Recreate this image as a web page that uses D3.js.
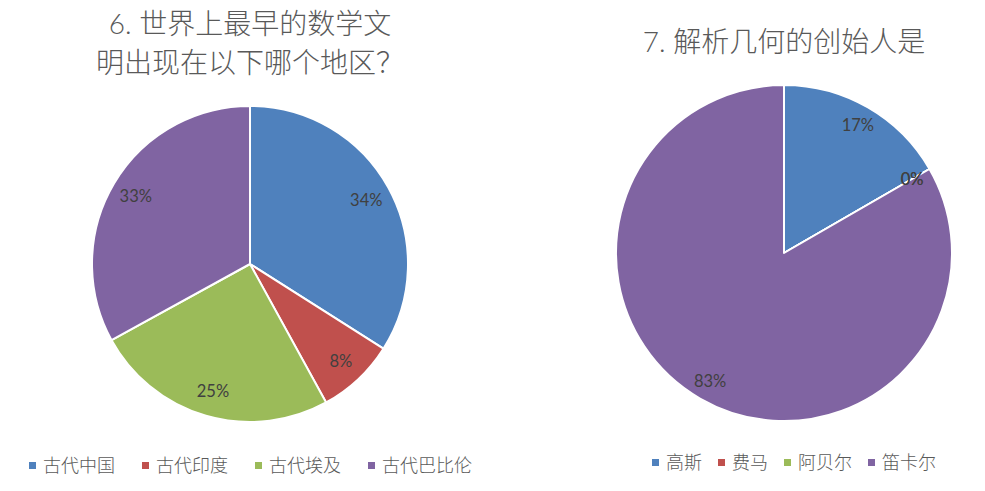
<!DOCTYPE html>
<html>
<head>
<meta charset="utf-8">
<script src="https://cdn.jsdelivr.net/npm/d3@7"></script>
<style>
  body { margin: 0; background: #fff; }
  svg text { font-family: Lato, "Noto Sans CJK SC", sans-serif; }
</style>
</head>
<body>
<svg id="chart"></svg>
<script>
  const regions = ['古代中国', '古代印度', '古代埃及', '古代巴比伦'];
  const regionShares = [34, 8, 25, 33];

  const founders = ['高斯', '费马', '阿贝尔', '笛卡尔'];
  const founderShares = [1, 0, 0, 5];

  const colors = ['#4F81BD', '#C0504D', '#9BBB59', '#8064A2'];

  const svgWidth = 985;
  const svgHeight = 491;

  const svg = d3.select('#chart')
    .attr('width', svgWidth)
    .attr('height', svgHeight);

  function drawPie(opts) {
    const total = d3.sum(opts.values);
    const pie = d3.pie().sort(null).value(d => d);
    const arc = d3.arc().innerRadius(0).outerRadius(opts.r);
    const labelArc = d3.arc().innerRadius(opts.r * opts.labelRatio).outerRadius(opts.r * opts.labelRatio);

    const g = svg.append('g').attr('transform', `translate(${opts.cx},${opts.cy})`);
    const arcs = pie(opts.values);

    g.selectAll('path')
      .data(arcs)
      .enter()
      .append('path')
      .attr('d', arc)
      .attr('fill', (d, i) => colors[i])
      .attr('stroke', '#fff')
      .attr('stroke-width', 2)
      .attr('stroke-linejoin', 'round');

    g.selectAll('text.lbl')
      .data(arcs)
      .enter()
      .append('text')
      .attr('class', 'lbl')
      .attr('transform', d => `translate(${labelArc.centroid(d)})`)
      .attr('text-anchor', 'middle')
      .attr('dy', '0.35em')
      .attr('font-size', 16.5)
      .attr('fill', '#404040')
      .text(d => Math.round(d.data / total * 100) + '%');

    // title
    const title = svg.append('text')
      .attr('x', opts.cx)
      .attr('text-anchor', 'middle')
      .attr('font-size', 28)
      .attr('font-weight', 300)
      .attr('fill', '#595959');
    opts.title.forEach((line, i) => {
      title.append('tspan')
        .attr('x', opts.cx)
        .attr('y', opts.titleY + i * 39)
        .text(line);
    });

    // legend
    const lg = svg.append('g').attr('transform', `translate(${opts.legendX},${opts.legendY})`);
    let x = 0;
    opts.names.forEach((name, i) => {
      lg.append('rect')
        .attr('x', x)
        .attr('y', -4)
        .attr('width', 7)
        .attr('height', 7)
        .attr('fill', colors[i]);
      const t = lg.append('text')
        .attr('x', x + 14)
        .attr('y', 0)
        .attr('dy', '0.35em')
        .attr('font-size', 18)
        .attr('font-weight', 300)
        .attr('fill', '#595959')
        .text(name);
      x += 14 + t.node().getComputedTextLength() + opts.legendGap;
    });
  }

  drawPie({
    values: regionShares, names: regions,
    cx: 250, cy: 264, r: 158, labelRatio: 0.84,
    title: ['6. 世界上最早的数学文', '明出现在以下哪个地区？'], titleY: 34,
    legendX: 29, legendY: 466, legendGap: 27
  });

  drawPie({
    values: founderShares, names: founders,
    cx: 784, cy: 253, r: 168, labelRatio: 0.88,
    title: ['7. 解析几何的创始人是'], titleY: 52,
    legendX: 652, legendY: 463, legendGap: 16
  });
</script>
</body>
</html>
